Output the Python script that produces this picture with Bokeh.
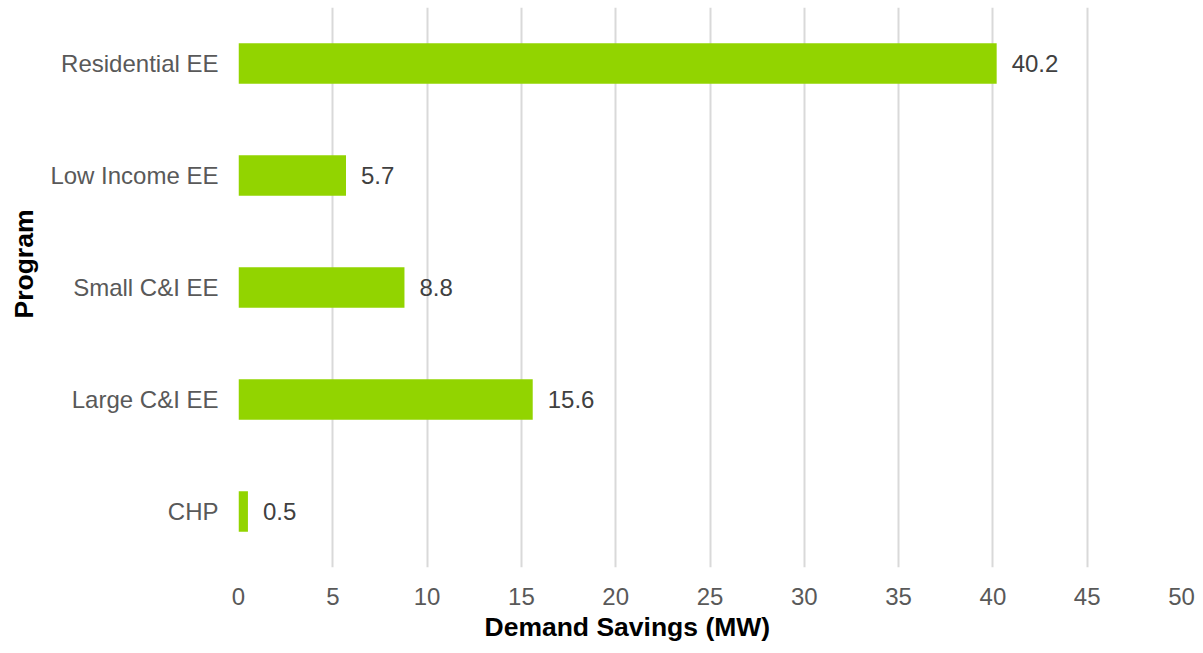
from bokeh.plotting import figure
from bokeh.models import ColumnDataSource, FactorRange, Range1d, FixedTicker, Title
from bokeh.core.properties import value
from bokeh.embed import file_html
from bokeh.resources import INLINE

programs = ["Residential EE", "Low Income EE", "Small C&I EE", "Large C&I EE", "CHP"]
savings = [40.2, 5.7, 8.8, 15.6, 0.5]
labels = ["40.2", "5.7", "8.8", "15.6", "0.5"]
x_ticks = [0, 5, 10, 15, 20, 25, 30, 35, 40, 45, 50]
x_title = "Demand Savings (MW)"
y_title = "Program"

factors = list(reversed(programs))

src = ColumnDataSource(data=dict(program=programs, savings=savings, label=labels))

p = figure(
    frame_width=943, frame_height=560,
    y_range=FactorRange(*factors, range_padding=0),
    x_range=Range1d(0, 50),
    output_backend="svg", toolbar_location=None,
    min_border_left=238, min_border_right=22, min_border_top=7, min_border_bottom=86,
)
p.outline_line_color = None
p.background_fill_color = "white"
p.border_fill_color = "white"

p.hbar(y="program", right="savings", left=0, height=0.36, source=src,
       fill_color="#92D400", line_color=None)

p.text(x="savings", y="program", text="label", source=src,
       x_offset=15, text_baseline="middle", text_align="left",
       text_font=value("Liberation Sans"), text_font_size="24px",
       text_color="#404040")

p.ygrid.grid_line_color = None
p.xgrid.grid_line_color = "#D9D9D9"
p.xgrid.grid_line_width = 2
p.xaxis.ticker = FixedTicker(ticks=x_ticks)

for ax in (p.xaxis[0], p.yaxis[0]):
    ax.axis_line_color = None
    ax.major_tick_line_color = None
    ax.minor_tick_line_color = None
    ax.major_tick_out = 0
    ax.major_tick_in = 0
    ax.major_label_text_font = "Liberation Sans"
    ax.major_label_text_font_size = "24px"
    ax.major_label_text_color = "#595959"

p.xaxis.major_label_standoff = 20
p.yaxis.major_label_standoff = 20

# axis titles as side titles so they can be placed like the reference
p.add_layout(Title(text=x_title, align="left", offset=246, vertical_align="bottom",
                   standoff=5, text_font="Liberation Sans", text_font_size="26.5px",
                   text_font_style="bold", text_color="#000000"), "below")
p.add_layout(Title(text=y_title, align="left", offset=249, vertical_align="middle",
                   standoff=15, text_font="Liberation Sans", text_font_size="26.5px",
                   text_font_style="bold", text_color="#000000"), "left")

open("out.html", "w").write(file_html(p, INLINE))
